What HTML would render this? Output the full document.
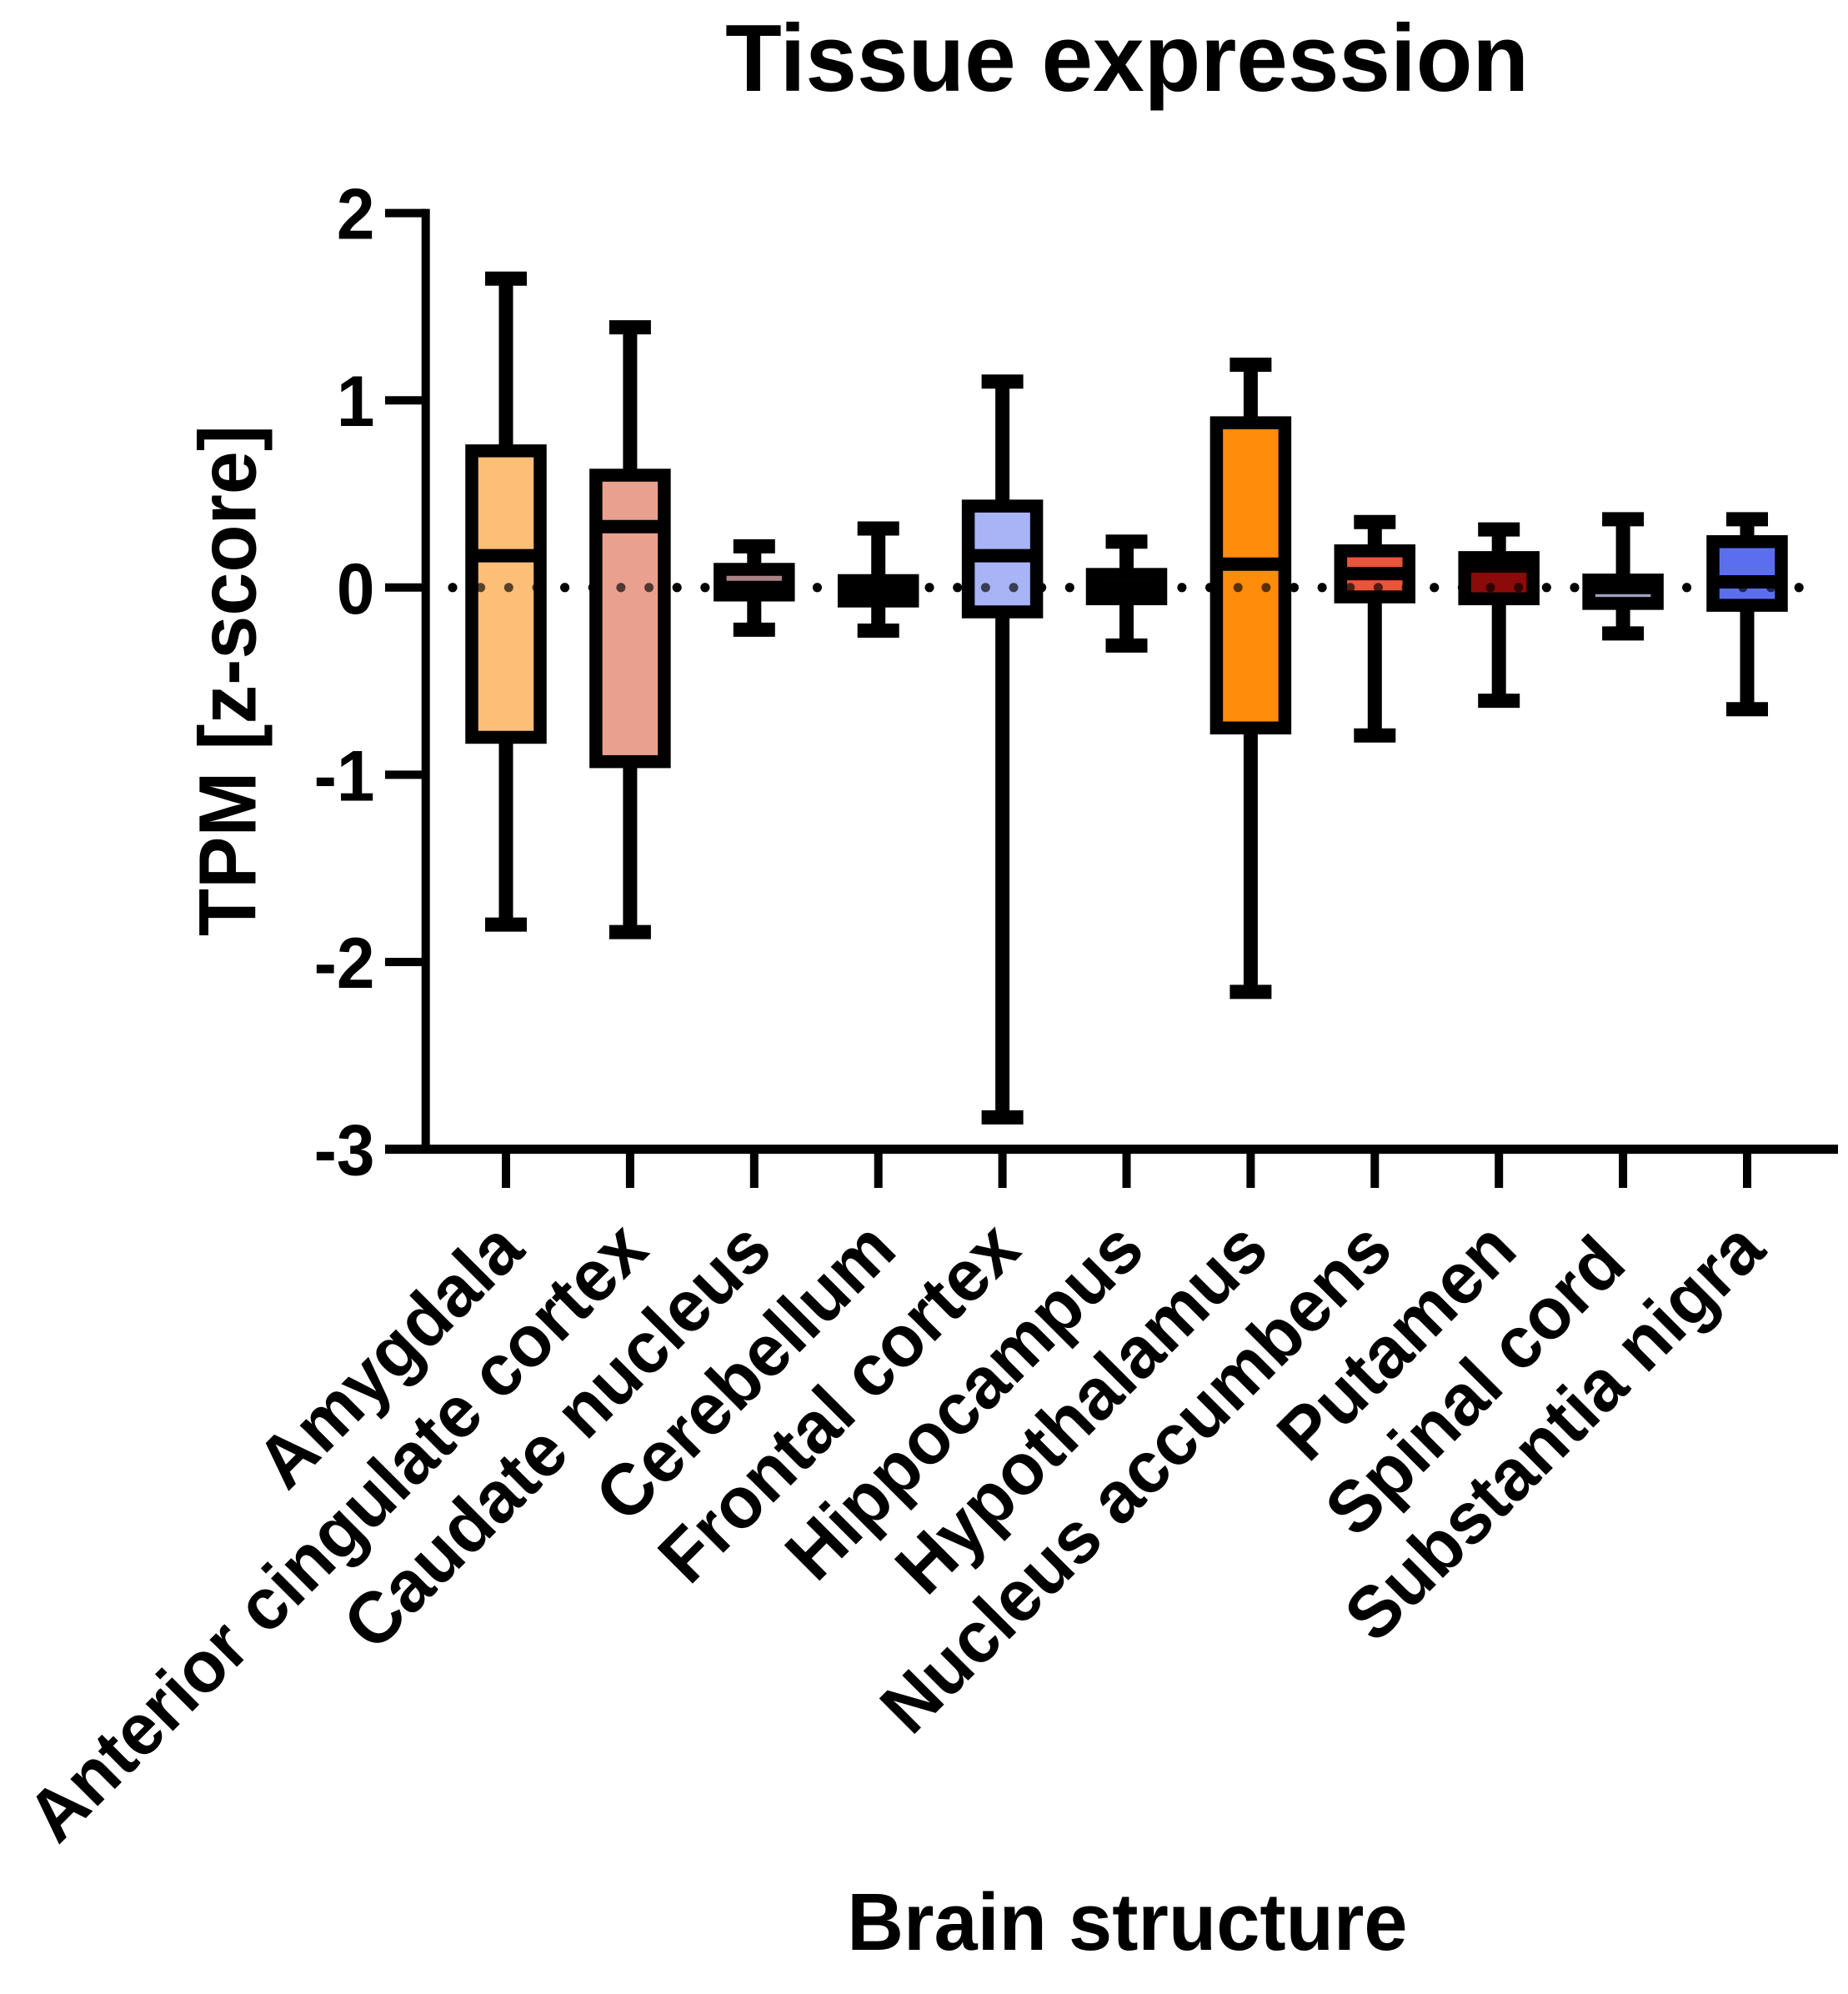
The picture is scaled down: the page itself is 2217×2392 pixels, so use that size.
<!DOCTYPE html>
<html>
<head>
<meta charset="utf-8">
<title>Tissue expression</title>
<style>
html,body{margin:0;padding:0;background:#fff;}
svg{display:block;}
text{font-family:"Liberation Sans",Arial,sans-serif;font-weight:bold;fill:#000;}
</style>
</head>
<body>
<svg id="chart" xmlns="http://www.w3.org/2000/svg" width="2217" height="2392" viewBox="0 0 2217 2392">
<rect width="2217" height="2392" fill="#ffffff"/>
<text transform="translate(1352,109) scale(1,1.03)" font-size="110.7" text-anchor="middle">Tissue expression</text>
<text transform="translate(306.7,816.5) rotate(-90) scale(1,1.04)" font-size="93.5" text-anchor="middle">TPM [z-score]</text>
<text transform="translate(1352.4,2339) scale(1,1.04)" font-size="93.8" text-anchor="middle">Brain structure</text>
</svg>
<script>
const categories = ["Amygdala","Anterior cingulate cortex","Caudate nucleus","Cerebellum","Frontal cortex","Hippocampus","Hypothalamus","Nucleus accumbens","Putamen","Spinal cord","Substantia nigra"];
const whiskerHigh = [1.65,1.39,0.22,0.315,1.10,0.245,1.19,0.35,0.31,0.365,0.365];
const q3Values = [0.73,0.60,0.097,0.037,0.435,0.07,0.88,0.196,0.16,0.04,0.245];
const medians = [0.17,0.325,0.0,-0.02,0.17,0.0,0.125,0.074,0.115,0.0,0.03];
const q1Values = [-0.80,-0.93,-0.04,-0.072,-0.13,-0.06,-0.75,-0.05,-0.06,-0.085,-0.095];
const whiskerLow = [-1.80,-1.84,-0.225,-0.23,-2.83,-0.31,-2.16,-0.79,-0.605,-0.245,-0.65];
const boxColors = ["#fdbf77","#e9a08e","#a98286","#3a3a3a","#a8b4f5","#3a3a3a","#ff8c0a","#e8553a","#8b0a0a","#a0a0c0","#5b6fee"];
const yTickValues = [2,1,0,-1,-2,-3];

const svg = document.getElementById('chart');
const NS = 'http://www.w3.org/2000/svg';
const yScale = v => 704.8 - 224.6 * v;
const xScale = i => 607 + 148.9 * i;

function make(tag, attrs, parent) {
  const el = document.createElementNS(NS, tag);
  for (const k in attrs) el.setAttribute(k, attrs[k]);
  (parent || svg).appendChild(el);
  return el;
}
function dotLine(opacity) {
  return make('line', {x1: 543, x2: 2170, y1: yScale(0), y2: yScale(0), stroke: '#000', 'stroke-width': 11, 'stroke-linecap': 'round', 'stroke-dasharray': '0 33.65', opacity: opacity});
}

const zeroLine = dotLine(1);



const yAxisLine = make('line', {x1: 510.7, x2: 510.7, y1: yScale(2) - 5, y2: yScale(-3), stroke: '#000', 'stroke-width': 10});



const xAxisLine = make('line', {x1: 462, x2: 2205, y1: yScale(-3), y2: yScale(-3), stroke: '#000', 'stroke-width': 11});



yTickValues.forEach(v => {
  const tick = make('line', {x1: 462, x2: 511, y1: yScale(v), y2: yScale(v), stroke: '#000', 'stroke-width': 10});
  
  
  const label = make('text', {transform: 'translate(449.5,' + (yScale(v) + 31) + ') scale(1,1.05)', 'font-size': 82, 'text-anchor': 'end'});
  label.textContent = String(v);
  
  
});

categories.forEach((name, i) => {
  const cx = xScale(i);
  const g = make('g', {});
  
  

  const whisker = make('line', {x1: cx, x2: cx, y1: yScale(whiskerHigh[i]), y2: yScale(whiskerLow[i]), stroke: '#000', 'stroke-width': 17}, g);
  
  

  [whiskerHigh[i], whiskerLow[i]].forEach(v => {
    const cap = make('line', {x1: cx - 25, x2: cx + 25, y1: yScale(v), y2: yScale(v), stroke: '#000', 'stroke-width': 17}, g);
    
    
  });

  const box = make('rect', {x: cx - 41, width: 82, y: yScale(q3Values[i]), height: yScale(q1Values[i]) - yScale(q3Values[i]), fill: boxColors[i], stroke: '#000', 'stroke-width': 15.5}, g);
  
  

  const med = make('line', {x1: cx - 41, x2: cx + 41, y1: yScale(medians[i]), y2: yScale(medians[i]), stroke: '#000', 'stroke-width': 16}, g);
  
  

  const tick = make('line', {x1: cx, x2: cx, y1: yScale(-3), y2: 1425, stroke: '#000', 'stroke-width': 10});
  
  

  const endsShort = name === 'Spinal cord';
  const labelX = cx + (endsShort ? 7 : 25);
  const labelY = endsShort ? 1520 : 1503;
  const label = make('text', {transform: 'translate(' + labelX + ',' + labelY + ') rotate(-45) scale(1,1.03)', 'font-size': 85, 'text-anchor': 'end'});
  label.textContent = name;
  
  
});

const zeroOverlay = dotLine(0.65);


</script>
</body>
</html>
